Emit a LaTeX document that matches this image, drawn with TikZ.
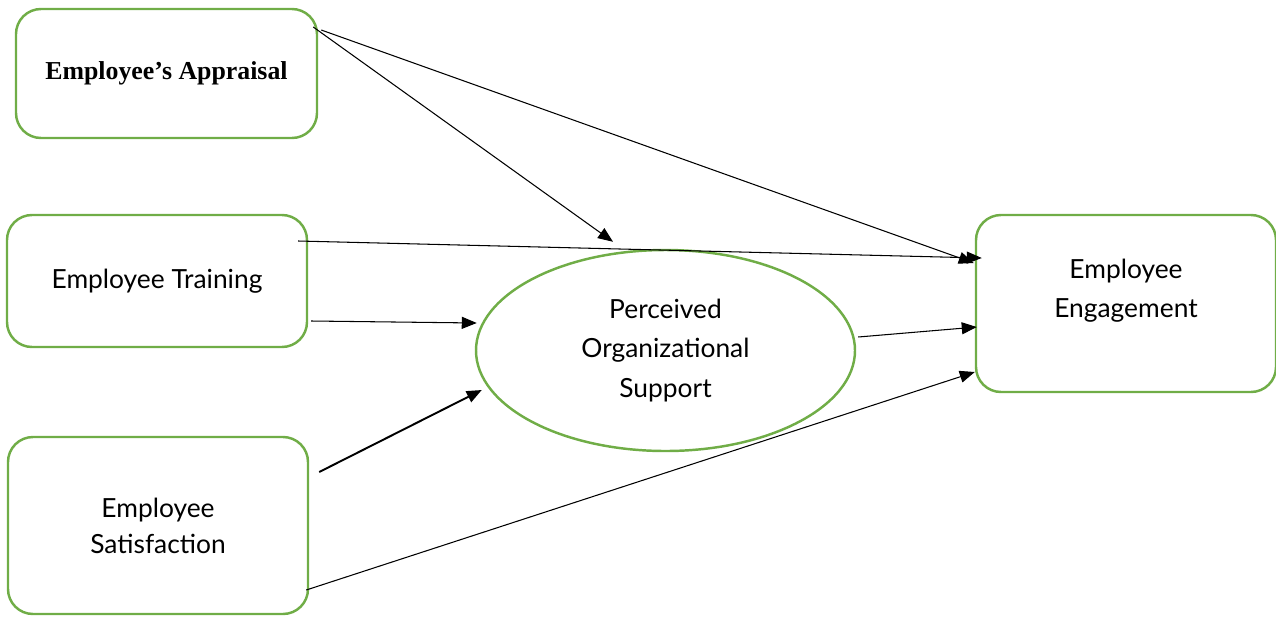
\documentclass[tikz,border=0pt]{standalone}
\usepackage{fontspec}
\setsansfont{Lato}
\newfontfamily\boldserif{Liberation Serif}
\usepackage[dvipsnames]{xcolor}
\usetikzlibrary{calc,positioning,arrows.meta,shapes.geometric}
\definecolor{boxgreen}{HTML}{70AD47}
\tikzset{
  factor/.style={
    shape = rectangle,
    rounded corners = 0.5cm,
    draw = boxgreen,
    line width = 1.4pt,
    minimum width = 6cm,
    align = center,
    font = \sffamily\fontsize{15}{20.5}\selectfont
  },
  mediator/.style={
    shape = ellipse,
    draw = boxgreen,
    line width = 1.4pt,
    minimum width = 7.58cm,
    minimum height = 4.02cm,
    align = center,
    font = \sffamily\fontsize{15}{22.5}\selectfont
  },
  link/.style={
    line width = 0.6pt,
    -{Triangle[length=3mm,width=2.4mm]}
  },
  boldlink/.style={
    link,
    line width = 1.1pt
  }
}
\begin{document}
\begin{tikzpicture}
    \useasboundingbox (0,0) rectangle (25.52,-12.32);
    % boxes
    \node[factor, minimum height=2.58cm, minimum width=6.02cm] (appr) at (3.33,-1.47)
        {\boldserif\bfseries\fontsize{14.7}{18}\selectfont Employee’s Appraisal};
    \node[factor, minimum height=2.64cm] (train) at (3.14,-5.62) {Employee Training};
    \node[factor, minimum height=3.54cm] (sat) at (3.16,-10.51) {Employee\\Satisfaction};
    \node[mediator] (pos) at (13.31,-7.01) {Perceived\\Organizational\\Support};
    \node[factor, minimum height=3.54cm, text depth=0.6cm, font=\sffamily\fontsize{15}{22}\selectfont] (eng) at (22.52,-6.07) {Employee\\Engagement};
    % paths
    \draw[link] ($(appr.east)+(-0.1,0.93)$) -- ($(pos.north)+(-1.05,0.14)$);
    \draw[link] ($(appr.east)+(0.06,0.87)$) -- ($(eng.west)+(-0.02,0.81)$);
    \draw[link] ($(train.east)+(-0.2,0.8)$) -- ($(eng.west)+(0.14,0.91)$);
    \draw[link] ($(train.east)+(0.06,-0.8)$) -- ($(pos.west)+(0.04,0.55)$);
    \draw[boldlink] ($(sat.east)+(0.2,1.07)$) -- ($(pos.west)+(0.14,-0.79)$);
    \draw[link] ($(pos.east)+(0.04,0.27)$) -- ($(eng.west)+(0.04,-0.47)$);
    \draw[link] ($(sat.east)+(-0.06,-1.29)$) -- ($(eng.west)+(0,-1.37)$);
\end{tikzpicture}
\end{document}
